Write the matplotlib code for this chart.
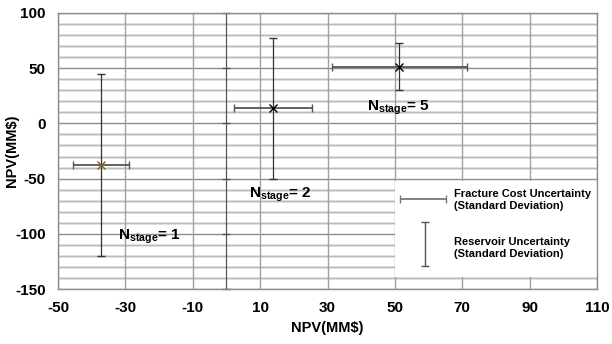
import matplotlib.pyplot as plt
from matplotlib.patches import Rectangle

# data
stages = [1, 2, 5]
npv_x = [-37.2, 13.8, 51.3]
npv_y = [-37.7, 13.7, 51.4]
frac_sd = [8.3, 11.6, 20.0]     # horizontal (fracture cost)
res_sd = [82.0, 64.0, 21.0]     # vertical (reservoir)
marker_colors = ['#8B5A2B', 'k', 'k']
label_pos = [(-32.2, -103), (6.7, -65), (41.6, 14.5)]

xticks = list(range(-50, 111, 20))
yticks = list(range(-150, 101, 50))

plt.rcParams['font.family'] = ['Liberation Sans', 'DejaVu Sans']
plt.rcParams['font.weight'] = 'bold'
plt.rcParams['axes.unicode_minus'] = False
plt.rcParams['mathtext.fontset'] = 'custom'
plt.rcParams['mathtext.bf'] = 'Liberation Sans:bold'
plt.rcParams['mathtext.rm'] = 'Liberation Sans:bold'

fig = plt.figure(figsize=(6.12, 3.44), dpi=100)
ax = fig.add_axes([58/612, 1-289/344, 539/612, 276/344])
ax.set_xlim(-50, 110)
ax.set_ylim(-150, 100)

# grid
for y in range(-150, 101, 10):
    if y % 50 == 0:
        ax.axhline(y, color='#8c8c8c', lw=1.0, zorder=0)
    else:
        ax.axhline(y, color='#d6d6d6', lw=1.8, zorder=0)
        ax.axhline(y, color='#b0b0b0', lw=0.5, zorder=0)
for x in xticks:
    ax.axvline(x, color='#a0a0a0', lw=1.0, zorder=0)

# y axis line at x = 0 with small ticks
ax.axvline(0, color='#555555', lw=0.9, zorder=1)
ax.plot([0]*len(yticks), yticks, ls='none', marker='_', ms=6, mew=1.0,
        color='#555555', zorder=1, clip_on=False)

for s in ax.spines.values():
    s.set_color('#8c8c8c')
    s.set_linewidth(1.0)

ax.set_xticks(xticks)
ax.set_yticks(yticks)
ax.tick_params(length=0, labelsize=11, pad=9)
for lab in ax.get_xticklabels() + ax.get_yticklabels():
    lab.set_fontweight('bold')
ax.set_xlabel('NPV(MM$)', fontsize=10.5, fontweight='bold', labelpad=4)
ax.set_ylabel('NPV(MM$)', fontsize=10.5, fontweight='bold')
ax.yaxis.set_label_coords(-0.072, 0.5)

# error bars
for i in range(len(stages)):
    ax.errorbar(npv_x[i], npv_y[i], xerr=frac_sd[i], fmt='none',
                ecolor='#555555', elinewidth=1.3, capsize=3, capthick=1.0, zorder=3)
    ax.errorbar(npv_x[i], npv_y[i], yerr=res_sd[i], fmt='none',
                ecolor='#333333', elinewidth=0.9, capsize=3, capthick=1.0, zorder=3)
    ax.plot(npv_x[i], npv_y[i], marker='x', ms=6, mew=1.0,
            color=marker_colors[i], ls='none', zorder=4)
    lx, ly = label_pos[i]
    ax.text(lx, ly, r'N$_{\mathbf{stage}}$= %d' % stages[i], fontsize=11,
            fontweight='bold', va='center', ha='left', zorder=5)

# legend box
tr = ax.transAxes
ax.add_patch(Rectangle((337/539, (289-277)/276), 1-337/539, (277-181)/276,
                       transform=tr, facecolor='white', edgecolor='none', zorder=2))
hy = (289-199)/276
ax.errorbar([(400+446)/2/539-58/539], [hy], xerr=[(446-400)/2/539],
            transform=tr, fmt='none', ecolor='#777777', elinewidth=1.3,
            capsize=3, capthick=1.0, zorder=3)
vx = (425-58)/539
ax.errorbar([vx], [(289-244)/276], yerr=[22/276], transform=tr, fmt='none',
            ecolor='#555555', elinewidth=1.0, capsize=3, capthick=1.0, zorder=3)
ax.text((454-58)/539, (289-200)/276, 'Fracture Cost Uncertainty\n(Standard Deviation)',
        transform=tr, fontsize=8, fontweight='bold', va='center', ha='left',
        linespacing=1.3, zorder=4)
ax.text((454-58)/539, (289-248)/276, 'Reservoir Uncertainty\n(Standard Deviation)',
        transform=tr, fontsize=8, fontweight='bold', va='center', ha='left',
        linespacing=1.3, zorder=4)

fig.savefig('out.png', dpi=100)
